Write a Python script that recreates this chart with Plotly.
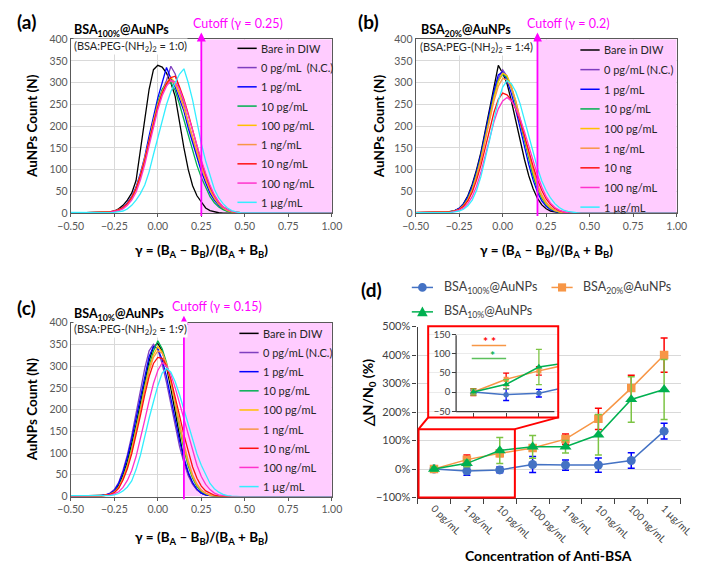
import plotly.graph_objects as go

W, H = 708, 569
def px(x): return x / W
def py(y): return 1 - y / H

# ---------------- histogram data (gamma bins -> counts) ----------------
GAMMA = [-0.5, -0.325, -0.3, -0.275, -0.25, -0.225, -0.2, -0.175, -0.15, -0.125, -0.1,
         -0.075, -0.05, -0.025, 0.0, 0.025, 0.05, 0.075, 0.1, 0.125, 0.15, 0.175, 0.2,
         0.225, 0.25, 0.275, 0.3, 0.325, 0.35, 0.375, 0.4, 0.425, 0.45, 0.475, 1.0]

A_BARE = [0, 0, 1, 2, 5, 10, 18, 30, 46, 75, 140, 215, 285, 330, 340, 336, 322, 300, 268, 205, 150, 100, 63, 40, 26, 12, 6, 3, 1, 0, 0, 0, 0, 0, 0]
A_NC = [0, 1, 2, 3, 4, 7, 12, 20, 34, 55, 85, 122, 165, 210, 250, 282, 305, 338, 320, 285, 250, 205, 168, 135, 105, 76, 52, 34, 20, 11, 6, 3, 2, 1, 0]
A_1PG = [0, 1, 2, 3, 5, 8, 14, 24, 38, 60, 92, 130, 178, 225, 265, 300, 335, 310, 290, 262, 235, 195, 160, 128, 96, 70, 46, 30, 18, 10, 5, 3, 1, 1, 0]
A_10PG = [0, 1, 1, 2, 4, 7, 12, 21, 35, 56, 86, 122, 168, 215, 255, 285, 298, 300, 282, 250, 215, 178, 140, 110, 82, 58, 38, 24, 14, 8, 4, 2, 1, 0, 0]
A_100PG = [0, 1, 2, 3, 4, 7, 12, 20, 34, 54, 84, 120, 162, 208, 248, 278, 300, 312, 300, 275, 245, 208, 172, 138, 106, 78, 53, 34, 21, 12, 6, 3, 2, 1, 0]
A_1NG = [0, 1, 2, 3, 5, 8, 13, 22, 36, 57, 88, 125, 166, 212, 250, 280, 298, 305, 296, 272, 242, 210, 175, 140, 110, 80, 55, 36, 22, 12, 7, 4, 2, 1, 0]
A_10NG = [0, 1, 2, 3, 5, 8, 13, 22, 36, 56, 86, 122, 165, 208, 245, 276, 298, 312, 315, 290, 262, 228, 190, 152, 118, 88, 60, 40, 25, 14, 8, 4, 2, 1, 0]
A_100NG = [0, 1, 1, 2, 4, 6, 10, 18, 30, 48, 76, 112, 155, 198, 238, 270, 292, 305, 302, 285, 258, 225, 190, 155, 122, 92, 64, 42, 26, 15, 8, 4, 2, 1, 0]
A_1UG = [2, 0, 1, 1, 2, 3, 5, 10, 18, 30, 45, 65, 95, 135, 175, 215, 250, 280, 302, 320, 332, 300, 260, 210, 160, 120, 85, 55, 35, 22, 12, 6, 3, 1, 0]

B_BARE = [1, 2, 4, 6, 11, 22, 40, 66, 100, 140, 190, 242, 290, 340, 322, 298, 258, 212, 168, 124, 86, 56, 34, 19, 10, 5, 3, 1, 0, 0, 0, 0, 0, 0, 0]
B_NC = [1, 2, 3, 5, 10, 19, 35, 60, 92, 130, 178, 228, 275, 310, 330, 315, 290, 255, 212, 168, 126, 88, 58, 36, 21, 11, 6, 3, 1, 0, 0, 0, 0, 0, 0]
B_1PG = [1, 2, 3, 6, 11, 21, 38, 63, 96, 136, 184, 235, 282, 318, 325, 305, 275, 238, 196, 152, 112, 76, 48, 28, 16, 8, 4, 2, 1, 0, 0, 0, 0, 0, 0]
B_10PG = [1, 1, 3, 5, 9, 18, 33, 57, 90, 128, 175, 225, 270, 305, 320, 312, 288, 252, 210, 165, 124, 86, 56, 34, 20, 10, 5, 2, 1, 0, 0, 0, 0, 0, 0]
B_100PG = [1, 2, 3, 5, 9, 17, 31, 54, 86, 124, 170, 220, 266, 302, 322, 316, 292, 258, 218, 174, 132, 94, 62, 38, 22, 12, 6, 3, 1, 0, 0, 0, 0, 0, 0]
B_1NG = [1, 2, 3, 5, 9, 17, 30, 52, 84, 122, 166, 214, 258, 292, 310, 306, 288, 258, 220, 178, 136, 98, 66, 42, 25, 14, 7, 3, 1, 0, 0, 0, 0, 0, 0]
B_10NG = [2, 2, 3, 5, 9, 16, 28, 48, 76, 110, 150, 192, 232, 262, 276, 272, 260, 240, 212, 178, 142, 108, 77, 52, 33, 20, 11, 6, 3, 1, 0, 0, 0, 0, 0]
B_100NG = [1, 1, 2, 4, 7, 12, 22, 38, 62, 94, 132, 172, 210, 240, 258, 266, 258, 242, 218, 188, 154, 120, 88, 60, 38, 23, 13, 7, 3, 1, 0, 0, 0, 0, 0]
B_1UG = [1, 1, 2, 3, 5, 9, 17, 30, 52, 84, 124, 168, 215, 258, 290, 305, 298, 280, 252, 215, 176, 138, 104, 74, 52, 35, 22, 13, 7, 4, 2, 1, 0, 0, 0]

C_BARE = [1, 2, 3, 6, 12, 26, 50, 80, 120, 165, 215, 268, 312, 345, 352, 335, 298, 248, 192, 140, 85, 52, 30, 16, 8, 4, 2, 1, 0, 0, 0, 0, 0, 0, 0]
C_NC = [1, 2, 4, 8, 16, 32, 60, 96, 140, 190, 245, 295, 335, 350, 338, 305, 262, 210, 160, 115, 78, 48, 28, 15, 8, 4, 2, 1, 0, 0, 0, 0, 0, 0, 0]
C_1PG = [1, 2, 4, 7, 14, 30, 56, 90, 132, 180, 232, 282, 322, 345, 340, 315, 276, 226, 175, 128, 88, 56, 32, 17, 8, 4, 2, 1, 0, 0, 0, 0, 0, 0, 0]
C_10PG = [1, 1, 3, 5, 10, 22, 44, 74, 112, 156, 205, 255, 300, 335, 358, 340, 308, 262, 208, 156, 108, 70, 42, 23, 12, 6, 3, 1, 0, 0, 0, 0, 0, 0, 0]
C_100PG = [1, 1, 3, 5, 10, 21, 42, 71, 108, 152, 200, 250, 294, 326, 345, 332, 304, 262, 212, 162, 115, 76, 46, 26, 14, 7, 3, 1, 0, 0, 0, 0, 0, 0, 0]
C_1NG = [1, 1, 3, 5, 10, 20, 40, 68, 104, 148, 196, 245, 288, 320, 335, 330, 305, 266, 218, 168, 122, 82, 50, 29, 15, 8, 4, 2, 1, 0, 0, 0, 0, 0, 0]
C_10NG = [1, 1, 3, 5, 9, 19, 38, 64, 98, 140, 186, 234, 276, 306, 320, 318, 300, 270, 230, 186, 142, 102, 68, 42, 24, 13, 7, 3, 1, 0, 0, 0, 0, 0, 0]
C_100NG = [1, 1, 2, 3, 6, 11, 21, 37, 60, 92, 132, 176, 220, 260, 290, 308, 300, 280, 250, 214, 176, 140, 104, 72, 46, 28, 16, 8, 4, 2, 1, 0, 0, 0, 0]
C_1UG = [2, 1, 1, 2, 4, 7, 13, 22, 36, 62, 95, 140, 180, 218, 255, 284, 295, 286, 264, 234, 200, 164, 130, 98, 72, 50, 30, 18, 10, 5, 2, 1, 0, 0, 0]

LEGEND_A = ["Bare in DIW", "0 pg/mL\u00a0\u00a0(N.C.)", "1 pg/mL", "10 pg/mL", "100 pg/mL", "1 ng/mL", "10 ng/mL", "100 ng/mL", "1 µg/mL"]
LEGEND_B = ["Bare in DIW", "0 pg/mL (N.C.)", "1 pg/mL", "10 pg/mL", "100 pg/mL", "1 ng/mL", "10 ng", "100 ng/mL", "1 µg/mL"]
LEGEND_C = ["Bare in DIW", "0 pg/mL (N.C.)", "1 pg/mL", "10 pg/mL", "100 pg/mL", "1 ng/mL", "10 ng/mL", "100 ng/mL", "1 µg/mL"]
HIST_COLORS = ["#000000", "#7F3FBF", "#0000FF", "#00B050", "#FFC000", "#F79646", "#FF1010", "#FF33CC", "#33EEFF"]

CUTOFFS = [0.25, 0.2, 0.15]

# ---------------- panel (d) data ----------------
CATS = ["0 pg/mL", "1 pg/mL", "10 pg/mL", "100 pg/mL", "1 ng/mL", "10 ng/mL", "100 ng/mL", "1 µg/mL"]
BSA100 = [0, -7, -3, 16, 14, 14, 30, 133]
BSA100_ERR = [5, 15, 10, 28, 18, 25, 27, 28]
BSA20 = [0, 33, 55, 74, 105, 176, 284, 400]
BSA20_ERR = [9, 16, 11, 8, 18, 37, 45, 60]
BSA10 = [0, 20, 65, 78, 78, 120, 244, 279]
BSA10_ERR = [8, 12, 46, 40, 22, 71, 80, 105]

fig = go.Figure()

def note(x, y, text, size, color="#000000", xa="center", ya="middle", **kw):
    d = dict(x=px(x), y=py(y), xref="paper", yref="paper", text=text, showarrow=False,
             xanchor=xa, yanchor=ya, font=dict(size=size, color=color))
    d.update(kw)
    return d

# ---------------- histogram panels ----------------
panels = [
    dict(ax="x", ay="y", data=[A_BARE, A_NC, A_1PG, A_10PG, A_100PG, A_1NG, A_10NG, A_100NG, A_1UG],
         xd=(60, 331), yd=(33, 211), leg=LEGEND_A, legx=233, legy=42.3, legdy=19.7,
         letter="(a)", lx=2, ly=15, title="BSA<sub>100%</sub>@AuNPs", tx=61, ty=24,
         ratio="(BSA:PEG-(NH<sub>2</sub>)<sub>2</sub> = 1:0)", rx=62, ry=40,
         cut="Cutoff (γ = 0.25)", cx=185, cy=17, arrow_top=26, ytx=19.5, xty=250),
    dict(ax="x2", ay="y2", data=[B_BARE, B_NC, B_1PG, B_10PG, B_100PG, B_1NG, B_10NG, B_100NG, B_1UG],
         xd=(418, 689), yd=(33, 211), leg=LEGEND_B, legx=589, legy=44, legdy=20.1,
         letter="(b)", lx=356, ly=15, title="BSA<sub>20%</sub>@AuNPs", tx=421, ty=24,
         ratio="(BSA:PEG-(NH<sub>2</sub>)<sub>2</sub> = 1:4)", rx=421, ry=41,
         cut="Cutoff (γ = 0.2)", cx=531, cy=17, arrow_top=26, ytx=380, xty=250),
    dict(ax="x3", ay="y3", data=[C_BARE, C_NC, C_1PG, C_10PG, C_100PG, C_1NG, C_10NG, C_100NG, C_1UG],
         xd=(60, 331), yd=(323, 501), leg=LEGEND_C, legx=235, legy=334, legdy=19.6,
         letter="(c)", lx=2, ly=308, title="BSA<sub>10%</sub>@AuNPs", tx=61, ty=315,
         ratio="(BSA:PEG-(NH<sub>2</sub>)<sub>2</sub> = 1:9)", rx=62, ry=330,
         cut="Cutoff (γ = 0.15)", cx=163, cy=307, arrow_top=316, ytx=19.5, xty=543),
]

annotations = []
shapes = []
GRID = "#D9D9D9"
AXC = "#595959"

for i, p in enumerate(panels):
    for vals, col in zip(p["data"], HIST_COLORS):
        fig.add_trace(go.Scatter(x=GAMMA, y=vals, mode="lines", line=dict(color=col, width=1.3),
                                 xaxis=p["ax"], yaxis=p["ay"], showlegend=False, hoverinfo="skip"))
    xk = "xaxis" + ("" if i == 0 else str(i + 1))
    yk = "yaxis" + ("" if i == 0 else str(i + 1))
    fig.layout[xk] = dict(domain=[px(p["xd"][0]), px(p["xd"][1])], anchor=p["ay"], range=[-0.5, 1.0],
                          dtick=0.25, tick0=-0.5, tickformat=".2f", showgrid=True, gridcolor=GRID,
                          showline=True, mirror=True, linecolor=AXC, linewidth=1, ticks="outside",
                          ticklen=3, tickcolor=AXC, tickfont=dict(size=10.5, color=AXC), zeroline=False)
    fig.layout[yk] = dict(domain=[py(p["yd"][1]), py(p["yd"][0])], anchor=p["ax"], range=[0, 400],
                          dtick=50, showgrid=True, gridcolor=GRID, showline=True, mirror=True,
                          linecolor=AXC, linewidth=1, ticks="", tickfont=dict(size=10.5, color=AXC),
                          zeroline=False)
    cut = CUTOFFS[i]
    shapes.append(dict(type="rect", xref=p["ax"], yref=p["ay"], x0=cut, x1=1.0, y0=0, y1=400,
                       fillcolor="#FFCCFF", line=dict(width=0), layer="between"))
    # cutoff arrow
    annotations.append(dict(x=cut, xref=p["ax"], y=py(p["arrow_top"]), yref="paper", text="",
                            showarrow=True, ax=0, ay=p["yd"][1] - p["arrow_top"], axref="pixel",
                            ayref="pixel", arrowhead=2, arrowsize=1, arrowwidth=1.8,
                            arrowcolor="#FF00FF", standoff=0, startstandoff=0))
    annotations.append(note(p["cx"], p["cy"], p["cut"], 12.5, "#FF00FF", xa="left"))
    annotations.append(note(p["lx"], p["ly"], "<b>" + p["letter"] + "</b>", 19, xa="left"))
    annotations.append(note(p["tx"], p["ty"], "<b>" + p["title"] + "</b>", 12.5, xa="left"))
    annotations.append(note(p["rx"], p["ry"], p["ratio"], 11, "#262626", xa="left",
                            bgcolor="white", borderpad=0))
    annotations.append(note(p["ytx"], (p["yd"][0] + p["yd"][1]) / 2, "<b>AuNPs Count (N)</b>", 13.5,
                            textangle=-90))
    annotations.append(note((p["xd"][0] + p["xd"][1]) / 2, p["xty"],
                            "<b>γ = (B<sub>A</sub> – B<sub>B</sub>)/(B<sub>A</sub> + B<sub>B</sub>)</b>", 13.5))
    # manual legend
    for k, (lab, col) in enumerate(zip(p["leg"], HIST_COLORS)):
        yy = p["legy"] + k * p["legdy"]
        shapes.append(dict(type="line", xref="paper", yref="paper", x0=px(p["legx"]), x1=px(p["legx"] + 20),
                           y0=py(yy), y1=py(yy), line=dict(color=col, width=1.5), layer="above"))
        annotations.append(note(p["legx"] + 22, yy, lab, 11, "#262626", xa="left"))

# ---------------- panel (d) ----------------
C_BLUE, C_ORANGE, C_GREEN = "#4472C4", "#F79646", "#00B050"
E_BLUE, E_ORANGE, E_GREEN = "#0000FF", "#FF0000", "#7CC444"

series_d = [
    ("BSA100", BSA100, BSA100_ERR, C_BLUE, E_BLUE, "circle", 9),
    ("BSA20", BSA20, BSA20_ERR, C_ORANGE, E_ORANGE, "square", 8.5),
    ("BSA10", BSA10, BSA10_ERR, C_GREEN, E_GREEN, "triangle-up", 10.5),
]
for name, vals, err, c, ec, sym, sz in series_d:
    fig.add_trace(go.Scatter(x=CATS, y=vals, mode="lines+markers", xaxis="x4", yaxis="y4",
                             line=dict(color=c, width=1.5), marker=dict(symbol=sym, size=sz, color=c),
                             error_y=dict(type="data", array=err, color=ec, thickness=1.5, width=3.5),
                             showlegend=False, hoverinfo="skip"))

fig.layout["xaxis4"] = dict(domain=[px(420), px(693)], anchor="y4", type="category", categoryarray=CATS,
                            range=[-0.5, 7.5], tickson="boundaries", ticks="outside", ticklen=5,
                            tickcolor="#404040", showline=True, linecolor="#404040", linewidth=1.3,
                            tickangle=45, tickfont=dict(size=10, color="#404040"), showgrid=False)
fig.layout["yaxis4"] = dict(domain=[py(502), py(327)], anchor="x4", range=[-100, 500], dtick=100,
                            ticksuffix="%", ticks="outside", ticklen=4, tickcolor="#404040",
                            showline=True, linecolor="#404040", linewidth=1.3, showgrid=True,
                            gridcolor=GRID, zeroline=False, tickfont=dict(size=11, color="#404040"))

# inset
INSET_XR = [-1.38, 2.59]
INSET_YR = [-66, 171]
for name, vals, err, c, ec, sym, sz in series_d:
    fig.add_trace(go.Scatter(x=CATS, y=vals, mode="lines+markers", xaxis="x5", yaxis="y5",
                             line=dict(color=c, width=1.5), marker=dict(symbol=sym, size=sz * 0.6, color=c),
                             error_y=dict(type="data", array=err, color=ec, thickness=1.3, width=3),
                             showlegend=False, hoverinfo="skip"))
fig.layout["xaxis5"] = dict(domain=[px(431), px(566)], anchor="free", position=py(414), type="category",
                            categoryarray=CATS, range=INSET_XR, ticks="outside", ticklen=4,
                            tickcolor="#404040", showticklabels=False, showline=False, showgrid=False)
fig.layout["yaxis5"] = dict(domain=[py(420), py(326.7)], anchor="free", position=px(460), range=INSET_YR,
                            tickvals=[-50, 0, 50, 100, 150], ticksuffix="%", ticks="outside", ticklen=4,
                            tickcolor="#404040", showline=False, showgrid=True, gridcolor="#EBEBEB",
                            zeroline=False, tickfont=dict(size=9.5, color="#404040"))
# white mask under the inset
shapes.append(dict(type="rect", xref="x5", yref="y5", x0=INSET_XR[0], x1=INSET_XR[1], y0=INSET_YR[0],
                   y1=INSET_YR[1], fillcolor="white", line=dict(width=0), layer="below"))
# inset axis lines
shapes.append(dict(type="line", xref="paper", yref="paper", x0=px(460), x1=px(562), y0=py(414), y1=py(414),
                   line=dict(color="#404040", width=1.3), layer="above"))
shapes.append(dict(type="line", xref="paper", yref="paper", x0=px(460), x1=px(460), y0=py(414), y1=py(336),
                   line=dict(color="#404040", width=1.3), layer="above"))
# significance marks in inset
shapes.append(dict(type="line", xref="x5", yref="y5", x0=-0.05, x1=1.0, y0=121, y1=121,
                   line=dict(color=C_ORANGE, width=1.5), layer="above"))
shapes.append(dict(type="line", xref="x5", yref="y5", x0=-0.05, x1=1.0, y0=87, y1=87,
                   line=dict(color="#5CC05C", width=1.5), layer="above"))
annotations.append(dict(x=0.5, y=132, xref="x5", yref="y5", text="<b>* *</b>", showarrow=False,
                        xanchor="center", yanchor="middle", font=dict(size=12, color="#FF0000")))
annotations.append(dict(x=0.58, y=95, xref="x5", yref="y5", text="<b>*</b>", showarrow=False,
                        xanchor="center", yanchor="middle", font=dict(size=12, color="#00B050")))
# red zoom frame
RED = "#FF0000"
shapes.append(dict(type="rect", xref="paper", yref="paper", x0=px(431), x1=px(566), y0=py(420), y1=py(326.7),
                   line=dict(color=RED, width=2), layer="above"))
shapes.append(dict(type="rect", xref="paper", yref="paper", x0=px(421), x1=px(521), y0=py(502), y1=py(432),
                   line=dict(color=RED, width=2), layer="above"))
shapes.append(dict(type="line", xref="paper", yref="paper", x0=px(421), x1=px(431), y0=py(432), y1=py(420),
                   line=dict(color=RED, width=2), layer="above"))
shapes.append(dict(type="line", xref="paper", yref="paper", x0=px(521), x1=px(566), y0=py(432), y1=py(420),
                   line=dict(color=RED, width=2), layer="above"))

# panel (d) texts
annotations.append(note(359, 289, "<b>(d)</b>", 19, xa="left"))
annotations.append(note(370, 395, "<b>△N/N<sub>0</sub> (%)</b>", 14, textangle=-90))
annotations.append(note(556, 561, "<b>Concentration of Anti-BSA</b>", 14))
# legend (d)
leg_d = [
    (414, 287, C_BLUE, "circle", "BSA<sub>100%</sub>@AuNPs"),
    (559, 287, C_ORANGE, "square", "BSA<sub>20%</sub>@AuNPs"),
    (414, 312, C_GREEN, "triangle", "BSA<sub>10%</sub>@AuNPs"),
]
for lx, ly, c, sym, lab in leg_d:
    shapes.append(dict(type="line", xref="paper", yref="paper", x0=px(lx), x1=px(lx + 22), y0=py(ly), y1=py(ly),
                       line=dict(color=c, width=1.5), layer="above"))
    cx = lx + 11
    if sym == "circle":
        shapes.append(dict(type="circle", xref="paper", yref="paper", x0=px(cx - 4.5), x1=px(cx + 4.5),
                           y0=py(ly + 4.5), y1=py(ly - 4.5), fillcolor=c, line=dict(width=0), layer="above"))
    elif sym == "square":
        shapes.append(dict(type="rect", xref="paper", yref="paper", x0=px(cx - 4.2), x1=px(cx + 4.2),
                           y0=py(ly + 4.2), y1=py(ly - 4.2), fillcolor=c, line=dict(width=0), layer="above"))
    else:
        path = "M {} {} L {} {} L {} {} Z".format(px(cx - 5.5), py(ly + 4.5), px(cx + 5.5), py(ly + 4.5),
                                                   px(cx), py(ly - 5.5))
        shapes.append(dict(type="path", xref="paper", yref="paper", path=path, fillcolor=c,
                           line=dict(width=0), layer="above"))
    annotations.append(note(lx + 31, ly, lab, 12.5, "#404040", xa="left"))

fig.update_layout(width=W, height=H, margin=dict(l=0, r=0, t=0, b=0), paper_bgcolor="white",
                  plot_bgcolor="white", font=dict(family="Lato, 'Liberation Sans', sans-serif"),
                  showlegend=False, shapes=shapes, annotations=annotations)

fig.write_html("out.html", config={"displayModeBar": False},
               post_script="document.body.style.margin='0px';")
